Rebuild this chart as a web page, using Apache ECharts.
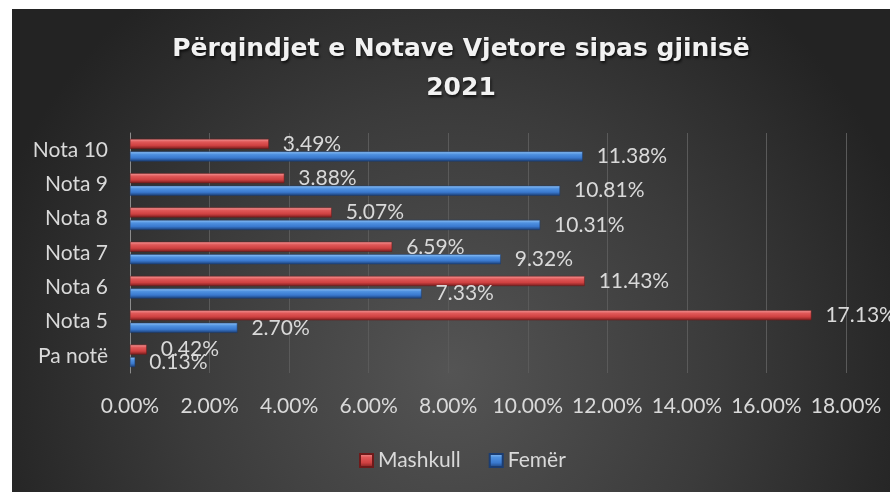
<!DOCTYPE html>
<html>
<head>
<meta charset="utf-8">
<script src="https://cdn.jsdelivr.net/npm/echarts@6/dist/echarts.min.js"></script>
<style>
  html, body { margin: 0; padding: 0; background: #ffffff; }
  #chart { width: 890px; height: 492px; }
</style>
</head>
<body>
<div id="chart"></div>
<script>
// categories from bottom to top (category axis starts at the bottom)
const categories = ['Pa notë', 'Nota 5', 'Nota 6', 'Nota 7', 'Nota 8', 'Nota 9', 'Nota 10'];
const mashkull = [0.42, 17.13, 11.43, 6.59, 5.07, 3.88, 3.49];
const femer = [0.13, 2.70, 7.33, 9.32, 10.31, 10.81, 11.38];
const xTicks = [0, 2, 4, 6, 8, 10, 12, 14, 16, 18];

const chart = echarts.init(document.getElementById('chart'));

const redGrad = new echarts.graphic.LinearGradient(0, 0, 0, 1, [
  { offset: 0, color: '#f59a9a' },
  { offset: 0.3, color: '#e05858' },
  { offset: 0.65, color: '#cf4141' },
  { offset: 1, color: '#761c1c' }
]);
const blueGrad = new echarts.graphic.LinearGradient(0, 0, 0, 1, [
  { offset: 0, color: '#92c4f6' },
  { offset: 0.3, color: '#4f91e0' },
  { offset: 0.65, color: '#3a79cf' },
  { offset: 1, color: '#1b3d72' }
]);

const labelStyle = {
  show: true,
  position: 'right',
  distance: 14,
  color: '#d9d9d9',
  fontSize: 21,
  fontFamily: 'Lato',
  formatter: p => p.value.toFixed(2) + '%'
};

chart.setOption({
  backgroundColor: 'transparent',
  graphic: [{
    type: 'rect',
    z: -10,
    silent: true,
    shape: { x: 12, y: 9, width: 878, height: 483 },
    style: {
      fill: new echarts.graphic.RadialGradient(0.5, 0.75, 1.0, [
        { offset: 0, color: '#545454' },
        { offset: 0.55, color: '#3b3b3b' },
        { offset: 1, color: '#232323' }
      ])
    }
  }],
  title: {
    text: 'Përqindjet e Notave Vjetore sipas gjinisë\n2021',
    left: 456,
    top: 25,
    textAlign: 'center',
    textStyle: {
      color: '#f2f2f2',
      fontSize: 25,
      fontWeight: 'bold',
      fontFamily: 'DejaVu Sans',
      lineHeight: 39,
      textShadowColor: 'rgba(0,0,0,0.75)',
      textShadowBlur: 3,
      textShadowOffsetX: 1,
      textShadowOffsetY: 2
    }
  },
  legend: {
    bottom: 16,
    left: 354,
    icon: 'rect',
    itemWidth: 13,
    itemHeight: 13,
    itemGap: 28,
    textStyle: { color: '#d9d9d9', fontSize: 21, fontFamily: 'Lato' },
    data: ['Mashkull', 'Femër']
  },
  grid: { left: 130, right: 44, top: 133, bottom: 119, containLabel: false },
  xAxis: {
    type: 'value',
    min: xTicks[0],
    max: xTicks[xTicks.length - 1],
    interval: 2,
    axisLine: { show: false },
    axisTick: { show: false },
    splitLine: { lineStyle: { color: '#5a5a5a', width: 1 } },
    axisLabel: {
      color: '#d9d9d9',
      fontSize: 21,
      fontFamily: 'Lato',
      margin: 23,
      formatter: v => v.toFixed(2) + '%'
    }
  },
  yAxis: {
    type: 'category',
    data: categories,
    axisLine: { lineStyle: { color: '#8c8c8c', width: 1 } },
    axisTick: { show: false },
    axisLabel: { color: '#d9d9d9', fontSize: 21, fontFamily: 'Lato', margin: 22 }
  },
  series: [
    {
      name: 'Mashkull',
      type: 'bar',
      data: mashkull,
      barWidth: 10,
      barGap: '25%',
      itemStyle: { color: redGrad, borderColor: '#6e1a1a', borderWidth: 0.5 },
      label: labelStyle
    },
    {
      name: 'Femër',
      type: 'bar',
      data: femer,
      barWidth: 10,
      barGap: '25%',
      itemStyle: { color: blueGrad, borderColor: '#1b3d72', borderWidth: 0.5 },
      label: labelStyle
    }
  ]
});
</script>
</body>
</html>
